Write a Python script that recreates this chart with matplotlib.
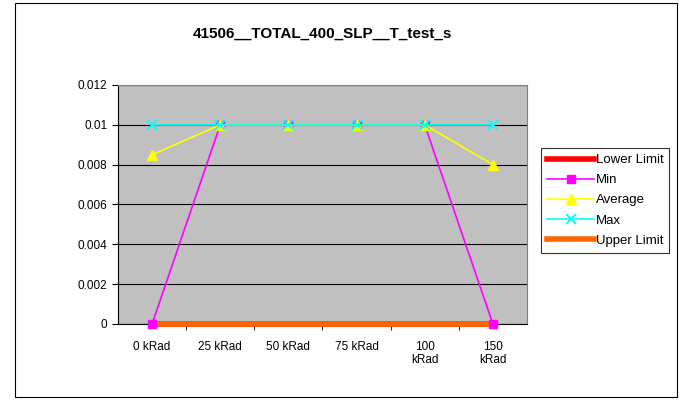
import matplotlib
matplotlib.use("Agg")
import matplotlib.pyplot as plt
from matplotlib.patches import Rectangle

plt.rcParams['font.family'] = ['Liberation Sans', 'DejaVu Sans']

categories = ["0 kRad", "25 kRad", "50 kRad", "75 kRad", "100\nkRad", "150\nkRad"]
lower_limit = [0, 0, 0, 0, 0, 0]
min_vals = [0, 0.01, 0.01, 0.01, 0.01, 0]
avg_vals = [0.0085, 0.01, 0.01, 0.01, 0.01, 0.008]
max_vals = [0.01, 0.01, 0.01, 0.01, 0.01, 0.01]
upper_limit = [0, 0, 0, 0, 0, 0]
title = "41506__TOTAL_400_SLP__T_test_s"

fig = plt.figure(figsize=(6.8, 4), dpi=100)
fig.patches.append(Rectangle((15 / 680, 3 / 400), 662 / 680, 394 / 400,
                             transform=fig.transFigure, fill=False,
                             edgecolor='black', linewidth=0.8))

ax = fig.add_axes([118 / 680, 76 / 400, 409 / 680, 239 / 400])
ax.set_facecolor('#C0C0C0')
x = list(range(len(categories)))

ax.plot(x, lower_limit, color='#FF0000', linewidth=4, label='Lower Limit',
        zorder=3, clip_on=False)
ax.plot(x, min_vals, color='#FF00FF', linewidth=1.2, marker='s', markersize=6,
        label='Min', zorder=4, clip_on=False)
ax.plot(x, avg_vals, color='#FFFF00', linewidth=1.2, marker='^', markersize=7,
        label='Average', zorder=5, clip_on=False)
ax.plot(x, max_vals, color='#00FFFF', linewidth=1.2, marker='x', markersize=7,
        markeredgewidth=1.3, label='Max', zorder=6, clip_on=False)
ax.plot(x, upper_limit, color='#FF6600', linewidth=4, label='Upper Limit',
        zorder=3, clip_on=False)

ax.set_xlim(-0.5, len(categories) - 0.5)
ax.set_ylim(0, 0.012)
ax.set_yticks([0, 0.002, 0.004, 0.006, 0.008, 0.01, 0.012])
ax.set_yticklabels(['0', '0.002', '0.004', '0.006', '0.008', '0.01', '0.012'])
ax.set_xticks(x)
ax.set_xticklabels(categories)
ax.set_xticks([i + 0.5 for i in x[:-1]], minor=True)
ax.tick_params(axis='x', which='major', length=0, pad=12)
ax.tick_params(axis='x', which='minor', length=4, direction='out')
ax.tick_params(axis='y', length=4, direction='out')
ax.tick_params(labelsize=8.5)
ax.yaxis.grid(True, color='black', linewidth=0.8)
ax.set_axisbelow(True)
for side in ['top', 'right']:
    ax.spines[side].set_color('#808080')
for side in ['left', 'bottom']:
    ax.spines[side].set_color('black')

ax.set_title(title, fontsize=11, fontweight='bold', pad=34)

leg = fig.legend(loc='upper left', bbox_to_anchor=(541 / 680, 1 - 148 / 400),
                 fontsize=9.5, frameon=True, fancybox=False, handlelength=3.6,
                 handletextpad=0.1, borderpad=0.45, labelspacing=0.6,
                 borderaxespad=0)
leg.get_frame().set_edgecolor('black')
leg.get_frame().set_linewidth(0.8)

fig.savefig('out.png', dpi=100)
